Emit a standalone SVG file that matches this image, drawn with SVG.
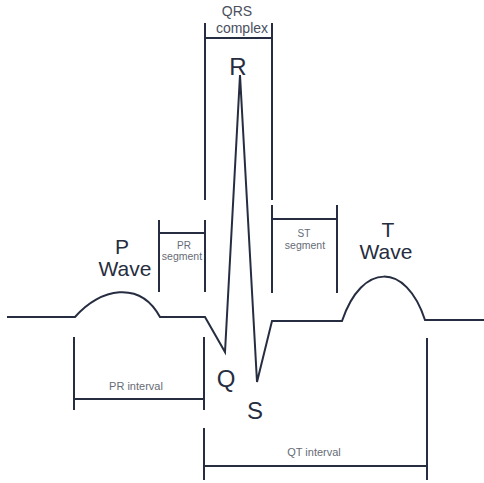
<svg xmlns="http://www.w3.org/2000/svg" width="484" height="483" viewBox="0 0 484 483">
<style>
.ln{stroke:#262d40;stroke-width:2;fill:none;stroke-linejoin:miter}
.big{font-family:"Liberation Sans",Arial,sans-serif;fill:#262d40;text-anchor:middle}
.sm{font-family:"Liberation Sans",Arial,sans-serif;fill:#666b76;text-anchor:middle}
</style>
<rect width="484" height="483" fill="#ffffff"/>
<g id="connectors">
<path id="ecg" class="ln" d="M7,317 L75,317 C100,288 140,280 160,317 L205,317 L225,352 L240,75 L257,382 L272,321 L342,321 C362,262 406,262 425,320 L484,320"/>
</g>
<g id="qrs-complex">
<path class="ln" d="M205,23 V200 M272,23 V200 M205,38 H272"/>
<text class="sm" x="237" y="16" font-size="14" style="fill:#4a505e">QRS</text>
<text class="sm" x="242" y="33" font-size="14" style="fill:#4a505e">complex</text>
</g>
<g id="pr-segment">
<path class="ln" d="M159,220 V292 M205,220 V292 M159,233 H205"/>
<text class="sm" x="184" y="249" font-size="10">PR</text>
<text class="sm" x="182" y="260" font-size="10.5">segment</text>
</g>
<g id="st-segment">
<path class="ln" d="M272,205 V293 M337,205 V293 M272,219 H337"/>
<text class="sm" x="304" y="237" font-size="10">ST</text>
<text class="sm" x="305" y="249" font-size="10.5">segment</text>
</g>
<g id="pr-interval">
<path class="ln" d="M74,337 V410 M204,337 V410 M74,399 H204"/>
<text class="sm" x="136" y="390" font-size="11">PR interval</text>
</g>
<g id="qt-interval">
<path class="ln" d="M204,428 V480 M427,338 V480 M204,466 H427"/>
<text class="sm" x="314" y="456" font-size="11">QT interval</text>
</g>
<g id="p-wave">
<text class="big" x="122" y="254" font-size="21">P</text>
<text class="big" x="125" y="276" font-size="21">Wave</text>
</g>
<g id="t-wave">
<text class="big" x="388" y="237" font-size="21">T</text>
<text class="big" x="386" y="259" font-size="21">Wave</text>
</g>
<g id="r-label"><text class="big" x="238" y="75" font-size="24">R</text></g>
<g id="q-label"><text class="big" x="226" y="387" font-size="24">Q</text></g>
<g id="s-label"><text class="big" x="255" y="419" font-size="24">S</text></g>
</svg>
